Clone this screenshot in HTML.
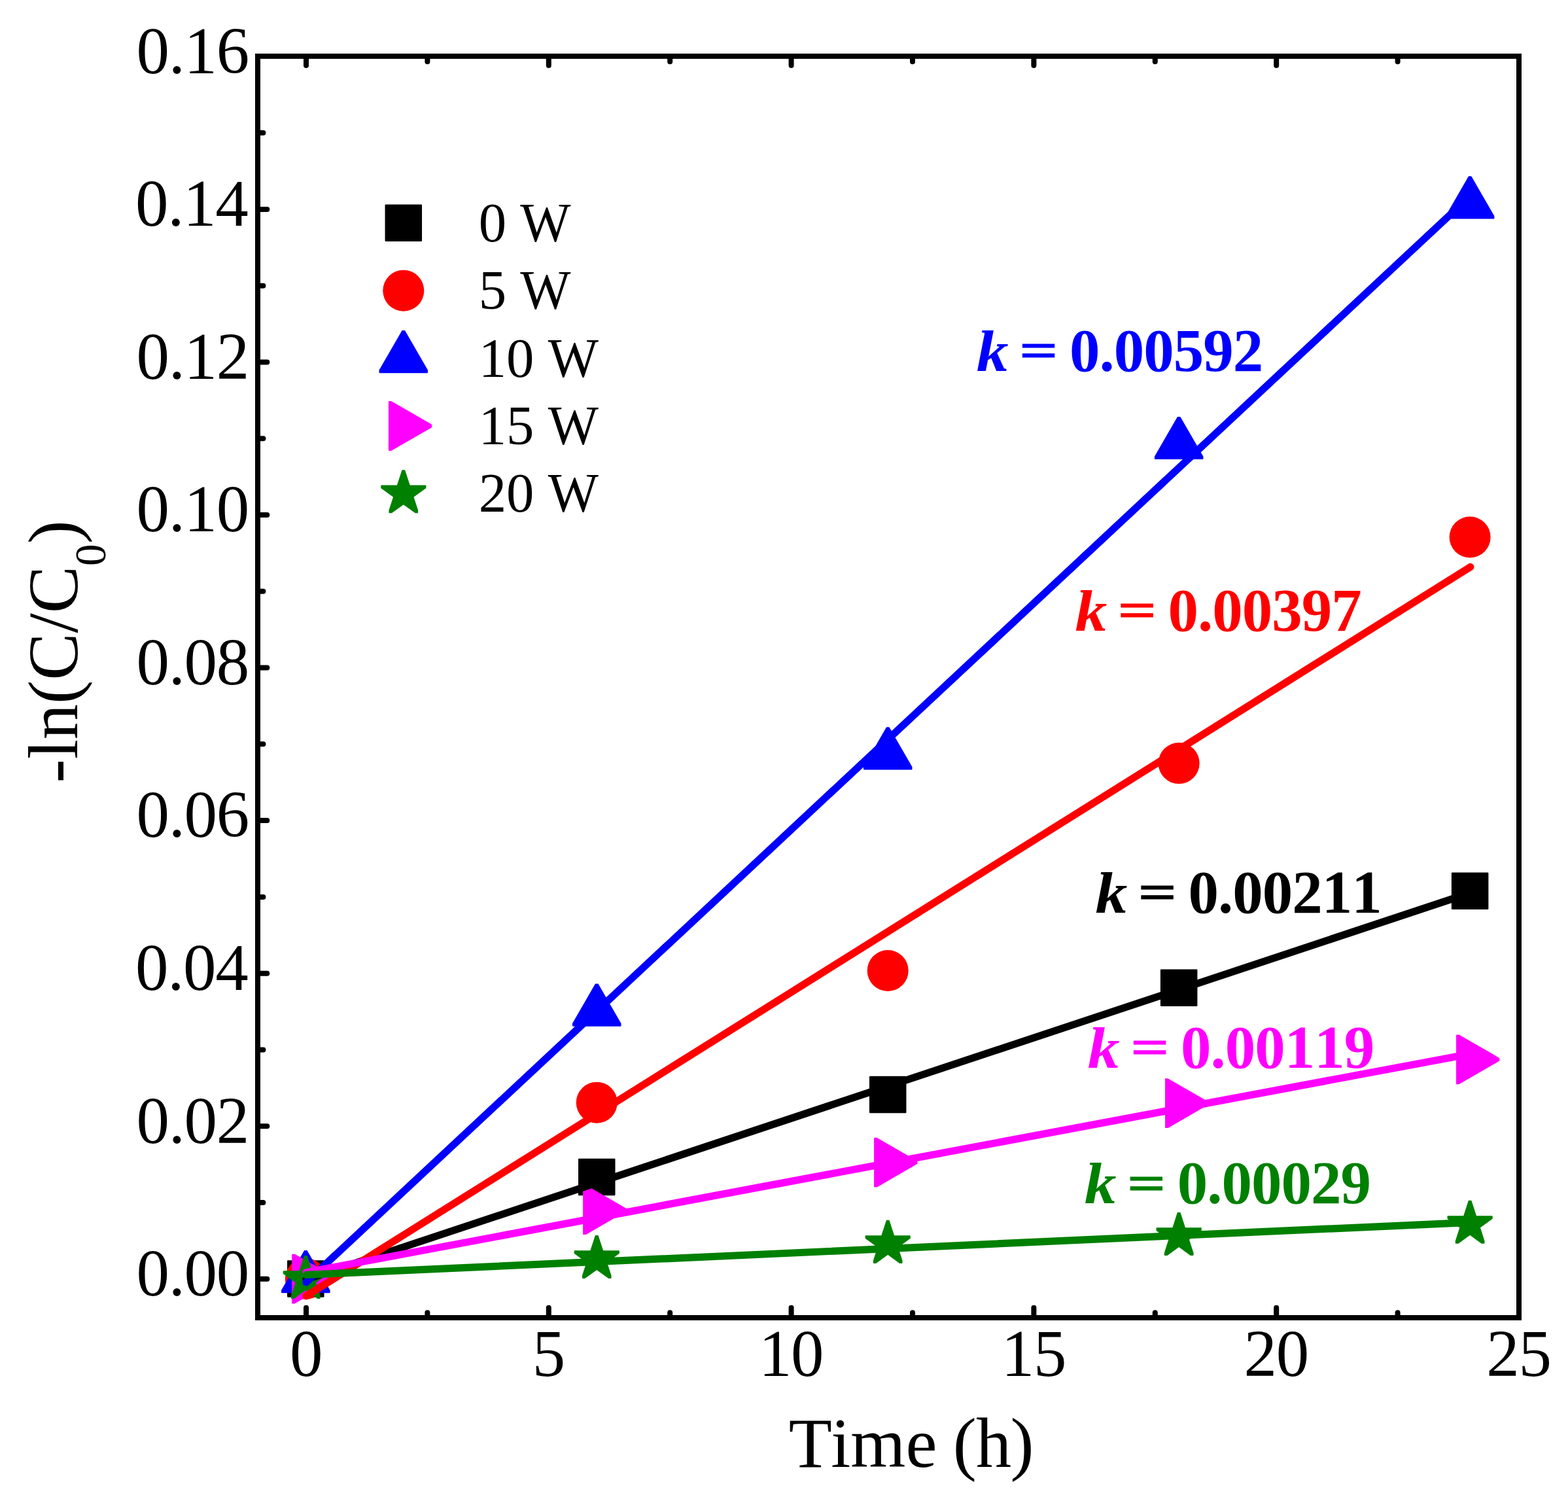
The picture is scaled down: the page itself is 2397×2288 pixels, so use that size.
<!DOCTYPE html>
<html lang="en"><head><meta charset="utf-8"><title>-ln(C/C0) vs Time</title>
<style>
html,body{margin:0;padding:0;background:#fff;}
body{width:2397px;height:2288px;overflow:hidden;}
svg{display:block;}
text{font-family:'Liberation Serif', 'DejaVu Serif', serif;font-kerning:none;font-variant-ligatures:none;}
</style></head><body>
<svg width="2397" height="2288" viewBox="0 0 2397 2288" role="img" aria-label="Plot of -ln(C/C0) versus time for 0, 5, 10, 15 and 20 W with linear fits">
<rect x="0" y="0" width="2397" height="2288" fill="#ffffff"/>
<g id="markers">
<rect x="439.05" y="1926.20" width="56.50" height="56.50" rx="1.2" fill="#000000"/>
<rect x="884.01" y="1770.65" width="56.50" height="56.50" rx="1.2" fill="#000000"/>
<rect x="1328.97" y="1644.64" width="56.50" height="56.50" rx="1.2" fill="#000000"/>
<rect x="1773.93" y="1481.38" width="56.50" height="56.50" rx="1.2" fill="#000000"/>
<rect x="2218.89" y="1333.54" width="56.50" height="56.50" rx="1.2" fill="#000000"/>
<circle cx="467.30" cy="1954.45" r="31.50" fill="#ff0000"/>
<circle cx="912.26" cy="1685.15" r="31.50" fill="#ff0000"/>
<circle cx="1357.22" cy="1483.48" r="31.50" fill="#ff0000"/>
<circle cx="1802.18" cy="1166.53" r="31.50" fill="#ff0000"/>
<circle cx="2247.14" cy="820.98" r="31.50" fill="#ff0000"/>
<polygon points="430.85,1975.51 503.75,1975.51 503.75,1972.11 469.00,1911.92 465.60,1911.92 430.85,1972.11" fill="#0000ff" stroke="#0000ff" stroke-width="1.6" stroke-linejoin="round"/>
<polygon points="875.81,1567.83 948.71,1567.83 948.71,1564.43 913.96,1504.24 910.56,1504.24 875.81,1564.43" fill="#0000ff" stroke="#0000ff" stroke-width="1.6" stroke-linejoin="round"/>
<polygon points="1320.77,1175.68 1393.67,1175.68 1393.67,1172.28 1358.92,1112.09 1355.52,1112.09 1320.77,1172.28" fill="#0000ff" stroke="#0000ff" stroke-width="1.6" stroke-linejoin="round"/>
<polygon points="1765.73,701.32 1838.63,701.32 1838.63,697.92 1803.88,637.73 1800.48,637.73 1765.73,697.92" fill="#0000ff" stroke="#0000ff" stroke-width="1.6" stroke-linejoin="round"/>
<polygon points="2210.69,333.70 2283.59,333.70 2283.59,330.30 2248.84,270.11 2245.44,270.11 2210.69,330.30" fill="#0000ff" stroke="#0000ff" stroke-width="1.6" stroke-linejoin="round"/>
<polygon points="447.00,1917.47 447.00,1991.67 450.40,1991.67 511.71,1956.27 511.71,1952.87 450.40,1917.47" fill="#ff00ff" stroke="#ff00ff" stroke-width="1.6" stroke-linejoin="round"/>
<polygon points="891.96,1812.01 891.96,1886.21 895.36,1886.21 956.67,1850.81 956.67,1847.41 895.36,1812.01" fill="#ff00ff" stroke="#ff00ff" stroke-width="1.6" stroke-linejoin="round"/>
<polygon points="1336.92,1739.61 1336.92,1813.81 1340.32,1813.81 1401.63,1778.41 1401.63,1775.01 1340.32,1739.61" fill="#ff00ff" stroke="#ff00ff" stroke-width="1.6" stroke-linejoin="round"/>
<polygon points="1781.88,1649.11 1781.88,1723.31 1785.28,1723.31 1846.59,1687.91 1846.59,1684.51 1785.28,1649.11" fill="#ff00ff" stroke="#ff00ff" stroke-width="1.6" stroke-linejoin="round"/>
<polygon points="2226.84,1582.19 2226.84,1656.39 2230.24,1656.39 2291.55,1620.99 2291.55,1617.59 2230.24,1582.19" fill="#ff00ff" stroke="#ff00ff" stroke-width="1.6" stroke-linejoin="round"/>
<polygon points="433.50,1943.02 433.50,1946.42 452.45,1960.18 445.76,1980.75 445.76,1984.15 449.16,1984.15 467.30,1970.98 485.44,1984.15 488.84,1984.15 488.84,1980.75 482.15,1960.18 501.10,1946.42 501.10,1943.02 476.58,1943.02 469.00,1919.70 465.60,1919.70 458.02,1943.02" fill="#008000" stroke="#008000" stroke-width="1.6" stroke-linejoin="round"/>
<polygon points="878.46,1912.07 878.46,1915.47 897.41,1929.23 890.72,1949.80 890.72,1953.20 894.12,1953.20 912.26,1940.03 930.40,1953.20 933.80,1953.20 933.80,1949.80 927.11,1929.23 946.06,1915.47 946.06,1912.07 921.54,1912.07 913.96,1888.75 910.56,1888.75 902.98,1912.07" fill="#008000" stroke="#008000" stroke-width="1.6" stroke-linejoin="round"/>
<polygon points="1323.42,1888.95 1323.42,1892.35 1342.37,1906.11 1335.68,1926.68 1335.68,1930.08 1339.08,1930.08 1357.22,1916.91 1375.36,1930.08 1378.76,1930.08 1378.76,1926.68 1372.07,1906.11 1391.02,1892.35 1391.02,1888.95 1366.50,1888.95 1358.92,1865.63 1355.52,1865.63 1347.94,1888.95" fill="#008000" stroke="#008000" stroke-width="1.6" stroke-linejoin="round"/>
<polygon points="1768.38,1877.16 1768.38,1880.56 1787.33,1894.32 1780.64,1914.89 1780.64,1918.29 1784.04,1918.29 1802.18,1905.12 1820.32,1918.29 1823.72,1918.29 1823.72,1914.89 1817.03,1894.32 1835.98,1880.56 1835.98,1877.16 1811.46,1877.16 1803.88,1853.84 1800.48,1853.84 1792.90,1877.16" fill="#008000" stroke="#008000" stroke-width="1.6" stroke-linejoin="round"/>
<polygon points="2213.34,1858.94 2213.34,1862.34 2232.29,1876.10 2225.60,1896.67 2225.60,1900.07 2229.00,1900.07 2247.14,1886.90 2265.28,1900.07 2268.68,1900.07 2268.68,1896.67 2261.99,1876.10 2280.94,1862.34 2280.94,1858.94 2256.42,1858.94 2248.84,1835.62 2245.44,1835.62 2237.86,1858.94" fill="#008000" stroke="#008000" stroke-width="1.6" stroke-linejoin="round"/>
</g>
<g id="fits" fill="none" stroke-width="11.2" stroke-linecap="round">
<line x1="468.00" y1="1955.38" x2="2247.84" y2="1364.59" stroke="#000000"/>
<line x1="468.00" y1="1980.84" x2="2247.84" y2="866.41" stroke="#ff0000"/>
<line x1="468.00" y1="1959.86" x2="2247.84" y2="299.23" stroke="#0000ff"/>
<line x1="468.00" y1="1944.64" x2="2247.84" y2="1610.65" stroke="#ff00ff"/>
<line x1="468.00" y1="1948.46" x2="2247.84" y2="1868.31" stroke="#008000"/>
</g>
<g id="axes" stroke="#000" fill="none" stroke-width="8.00">
<rect x="394.00" y="85.90" width="1928.00" height="1928.10" stroke-linejoin="miter"/>
</g>
<g id="ticks" stroke="#000" stroke-width="8.00" stroke-linecap="round">
<line x1="468.00" y1="2010.00" x2="468.00" y2="1998.70"/>
<line x1="468.00" y1="89.90" x2="468.00" y2="100.00"/>
<line x1="653.40" y1="2010.00" x2="653.40" y2="2006.20"/>
<line x1="653.40" y1="89.90" x2="653.40" y2="94.30"/>
<line x1="838.80" y1="2010.00" x2="838.80" y2="1998.70"/>
<line x1="838.80" y1="89.90" x2="838.80" y2="100.00"/>
<line x1="1024.20" y1="2010.00" x2="1024.20" y2="2006.20"/>
<line x1="1024.20" y1="89.90" x2="1024.20" y2="94.30"/>
<line x1="1209.60" y1="2010.00" x2="1209.60" y2="1998.70"/>
<line x1="1209.60" y1="89.90" x2="1209.60" y2="100.00"/>
<line x1="1395.00" y1="2010.00" x2="1395.00" y2="2006.20"/>
<line x1="1395.00" y1="89.90" x2="1395.00" y2="94.30"/>
<line x1="1580.40" y1="2010.00" x2="1580.40" y2="1998.70"/>
<line x1="1580.40" y1="89.90" x2="1580.40" y2="100.00"/>
<line x1="1765.80" y1="2010.00" x2="1765.80" y2="2006.20"/>
<line x1="1765.80" y1="89.90" x2="1765.80" y2="94.30"/>
<line x1="1951.20" y1="2010.00" x2="1951.20" y2="1998.70"/>
<line x1="1951.20" y1="89.90" x2="1951.20" y2="100.00"/>
<line x1="2136.60" y1="2010.00" x2="2136.60" y2="2006.20"/>
<line x1="2136.60" y1="89.90" x2="2136.60" y2="94.30"/>
<line x1="398.00" y1="1954.80" x2="408.30" y2="1954.80"/>
<line x1="398.00" y1="1838.02" x2="402.40" y2="1838.02"/>
<line x1="398.00" y1="1721.24" x2="408.30" y2="1721.24"/>
<line x1="398.00" y1="1604.46" x2="402.40" y2="1604.46"/>
<line x1="398.00" y1="1487.68" x2="408.30" y2="1487.68"/>
<line x1="398.00" y1="1370.90" x2="402.40" y2="1370.90"/>
<line x1="398.00" y1="1254.12" x2="408.30" y2="1254.12"/>
<line x1="398.00" y1="1137.34" x2="402.40" y2="1137.34"/>
<line x1="398.00" y1="1020.56" x2="408.30" y2="1020.56"/>
<line x1="398.00" y1="903.78" x2="402.40" y2="903.78"/>
<line x1="398.00" y1="787.00" x2="408.30" y2="787.00"/>
<line x1="398.00" y1="670.22" x2="402.40" y2="670.22"/>
<line x1="398.00" y1="553.44" x2="408.30" y2="553.44"/>
<line x1="398.00" y1="436.66" x2="402.40" y2="436.66"/>
<line x1="398.00" y1="319.88" x2="408.30" y2="319.88"/>
<line x1="398.00" y1="203.10" x2="402.40" y2="203.10"/>
</g>
<g id="xlabels" font-size="101" letter-spacing="-1.30" text-anchor="middle" fill="#000">
<text x="467.50" y="2103.00">0</text>
<text x="838.30" y="2103.00">5</text>
<text x="1209.10" y="2103.00">10</text>
<text x="1579.90" y="2103.00">15</text>
<text x="1950.70" y="2103.00">20</text>
<text x="2321.50" y="2103.00">25</text>
</g>
<g id="ylabels" font-size="101" letter-spacing="-1.30" text-anchor="end" fill="#000">
<text x="380.00" y="1980.10">0.00</text>
<text x="380.00" y="1746.54">0.02</text>
<text x="378.50" y="1512.98">0.04</text>
<text x="380.00" y="1279.42">0.06</text>
<text x="380.00" y="1045.86">0.08</text>
<text x="380.00" y="812.30">0.10</text>
<text x="380.00" y="578.74">0.12</text>
<text x="378.50" y="345.18">0.14</text>
<text x="380.00" y="111.62">0.16</text>
</g>
<text id="xtitle" x="1204.20" y="2241.70" font-size="108.2" fill="#000" xml:space="preserve"><tspan dx="1.5">T</tspan><tspan dx="-1.5">ime </tspan><tspan dx="-2.8">(</tspan><tspan dx="-0.8">h</tspan><tspan dx="-1.5">)</tspan></text>
<text id="ytitle" transform="translate(118.30,995.80) rotate(-90)" font-size="108.5" text-anchor="middle" fill="#000">-ln(C/C<tspan font-size="67.3" dy="42.8">0</tspan><tspan dy="-42.8">)</tspan></text>
<g id="legend">
<rect x="588.55" y="312.55" width="56.50" height="56.50" rx="1.2" fill="#000000"/>
<text x="731.70" y="368.80" font-size="84.8" fill="#000" xml:space="preserve">0 <tspan textLength="77.2" lengthAdjust="spacingAndGlyphs">W</tspan></text>
<circle cx="616.80" cy="444.20" r="31.50" fill="#ff0000"/>
<text x="731.70" y="472.20" font-size="84.8" fill="#000" xml:space="preserve">5 <tspan textLength="77.2" lengthAdjust="spacingAndGlyphs">W</tspan></text>
<polygon points="580.35,569.36 653.25,569.36 653.25,565.96 618.50,505.77 615.10,505.77 580.35,565.96" fill="#0000ff" stroke="#0000ff" stroke-width="1.6" stroke-linejoin="round"/>
<text x="731.70" y="575.60" font-size="84.8" fill="#000" xml:space="preserve">10 <tspan textLength="77.2" lengthAdjust="spacingAndGlyphs">W</tspan></text>
<polygon points="594.70,613.90 594.70,688.10 598.10,688.10 659.41,652.70 659.41,649.30 598.10,613.90" fill="#ff00ff" stroke="#ff00ff" stroke-width="1.6" stroke-linejoin="round"/>
<text x="731.70" y="679.00" font-size="84.8" fill="#000" xml:space="preserve">15 <tspan textLength="77.2" lengthAdjust="spacingAndGlyphs">W</tspan></text>
<polygon points="583.00,742.27 583.00,745.67 601.95,759.43 595.26,780.00 595.26,783.40 598.66,783.40 616.80,770.23 634.94,783.40 638.34,783.40 638.34,780.00 631.65,759.43 650.60,745.67 650.60,742.27 626.08,742.27 618.50,718.95 615.10,718.95 607.52,742.27" fill="#008000" stroke="#008000" stroke-width="1.6" stroke-linejoin="round"/>
<text x="731.70" y="782.40" font-size="84.8" fill="#000" xml:space="preserve">20 <tspan textLength="77.2" lengthAdjust="spacingAndGlyphs">W</tspan></text>
</g>
<g id="annotations" font-size="93" font-weight="bold">
<g fill="#0000ff">
<text transform="translate(1493.90,566.80) scale(1.05,0.955)" x="-1" y="0" font-style="italic">k</text>
<text transform="translate(1587.50,536.50) scale(1.118,0.80)" x="-26.25" y="30.9" stroke="#0000ff" stroke-width="1">=</text>
<text x="1634.90" y="566.80" letter-spacing="-1">0.00592</text>
</g>
<g fill="#ff0000">
<text transform="translate(1644.60,963.50) scale(1.05,0.955)" x="-1" y="0" font-style="italic">k</text>
<text transform="translate(1738.20,933.20) scale(1.118,0.80)" x="-26.25" y="30.9" stroke="#ff0000" stroke-width="1">=</text>
<text x="1785.60" y="963.50" letter-spacing="-1">0.00397</text>
</g>
<g fill="#000000">
<text transform="translate(1675.60,1394.90) scale(1.05,0.955)" x="-1" y="0" font-style="italic">k</text>
<text transform="translate(1769.20,1364.60) scale(1.118,0.80)" x="-26.25" y="30.9" stroke="#000000" stroke-width="1">=</text>
<text x="1816.60" y="1394.90" letter-spacing="-1">0.00211</text>
</g>
<g fill="#ff00ff">
<text transform="translate(1663.90,1631.60) scale(1.05,0.955)" x="-1" y="0" font-style="italic">k</text>
<text transform="translate(1757.50,1601.30) scale(1.118,0.80)" x="-26.25" y="30.9" stroke="#ff00ff" stroke-width="1">=</text>
<text x="1804.90" y="1631.60" letter-spacing="-1">0.00119</text>
</g>
<g fill="#008000">
<text transform="translate(1658.80,1839.30) scale(1.05,0.955)" x="-1" y="0" font-style="italic">k</text>
<text transform="translate(1752.40,1809.00) scale(1.118,0.80)" x="-26.25" y="30.9" stroke="#008000" stroke-width="1">=</text>
<text x="1799.80" y="1839.30" letter-spacing="-1">0.00029</text>
</g>
</g>
</svg>
</body></html>
